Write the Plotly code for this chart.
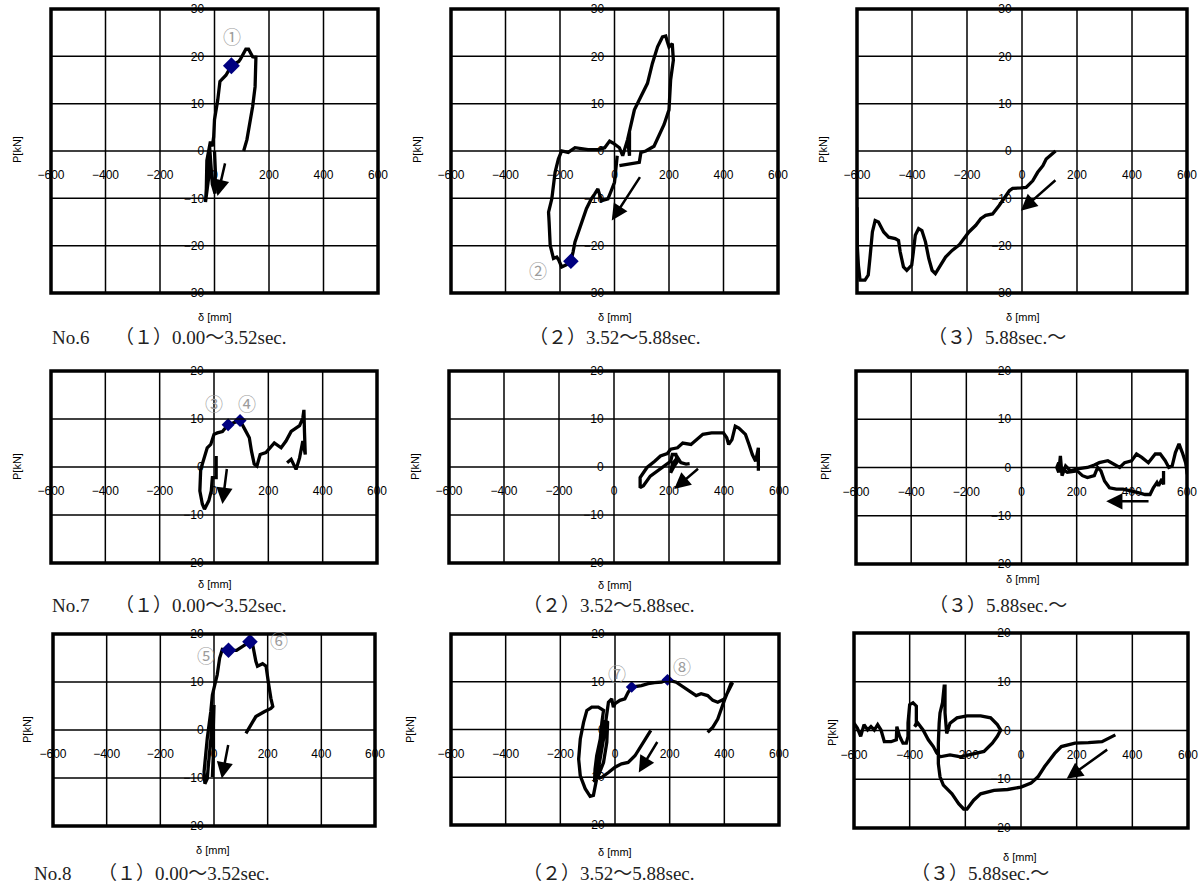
import plotly.graph_objects as go

# ---------------------------------------------------------------------------
# Load-displacement records, (delta [mm], P [kN]) in recorded order
# ---------------------------------------------------------------------------
NO6_1 = [(0, 0), (3, -4), (2, -9), (-8, -7), (-18, 1), (-20, -5), (-33, -10.8),
         (-30, -8), (-28, -2), (-15, 2), (-8, 1), (-3, 3), (0, 6.6), (12, 10.8),
         (20, 14.7), (30, 15.2), (42, 16), (62, 18), (89, 18.9), (95, 19.4),
         (107, 20.6), (115, 21.5), (125, 21.5), (133, 20.6), (140, 19.9),
         (152, 19.8), (152, 18.5), (149, 13.6), (140, 9.4), (131, 5.9),
         (119, 2.4), (107, 0)]
NO6_2 = [(10, -1), (6, -4.2), (0, -6.6), (-12, -8.4), (-24, -10.1), (-48, -10.5),
         (-61, -8), (-73, -9.1), (-85, -10.1), (-103, -12.2), (-115, -14.3),
         (-133, -17.1), (-145, -19.2), (-152, -21.3), (-160, -23.3), (-175, -24),
         (-194, -24.5), (-205, -23), (-212, -22.4), (-224, -22.7), (-236, -19.9),
         (-240, -15), (-242, -12.9), (-230, -10.1), (-224, -6.6), (-218, -4.5),
         (-206, -1.7), (-194, 0), (-170, -0.3), (-145, 0.7), (-97, 0.3),
         (-61, 0.3), (-36, 0.7), (-18, 2.1), (-6, 1.7), (18, 0.7), (30, -1),
         (42, 1), (48, 2.4), (55, -1), (55, 4), (48, 2.4), (61, 6), (73, 8.7),
         (97, 11.5), (121, 14.3), (139, 18.5), (158, 22), (176, 24.1),
         (188, 24.3), (194, 23.1), (200, 22), (212, 22.7), (216, 19.2),
         (206, 15), (200, 8.7), (182, 5.6), (164, 3.5), (145, 1), (115, 0),
         (97, -0.3), (91, -2.4), (55, -2.8), (18, -3.1)]
NO6_3 = [(122, 0), (88, -1.7), (76, -3.1), (57, -4.5), (39, -6.3), (15, -7.7),
         (-4, -7.8), (-34, -7.9), (-46, -8.4), (-65, -10.1), (-83, -11.5),
         (-107, -13.3), (-132, -13.6), (-150, -14.3), (-168, -15.7),
         (-193, -17.1), (-211, -18.5), (-229, -19.9), (-254, -21), (-278, -22.4),
         (-296, -24.1), (-315, -25.9), (-327, -25.2), (-339, -22.7),
         (-351, -19.2), (-364, -16.8), (-376, -16.4), (-388, -17.8),
         (-395, -21.3), (-401, -24.1), (-419, -25.2), (-431, -24.5),
         (-443, -21.3), (-449, -18.9), (-461, -18.5), (-485, -18.2),
         (-503, -17.1), (-522, -15), (-534, -14.7), (-544, -17.1),
         (-553, -22.7), (-559, -26.2), (-571, -27.3), (-589, -27.3),
         (-595, -24.1), (-599, -19.9), (-600, -11.9)]
NO7_1 = [(8, 2.3), (8, -2.2), (-6, -2.2), (-10, -5), (-19, -7), (-35, -8.8),
         (-43, -7.7), (-52, -5), (-49, -0.5), (-37, 1.9), (-25, 4), (-12, 4.7),
         (0, 6.8), (12, 7.1), (31, 7.4), (52, 8.8), (74, 9.2), (96, 9.7),
         (111, 8.1), (130, 6.1), (138, 3.3), (148, 0.6), (158, 0.2), (170, 2.6),
         (191, 3), (210, 4.3), (222, 5), (247, 4), (265, 5.4), (284, 7.4),
         (296, 7.8), (315, 8.6), (327, 10.2), (331, 11.9), (333, 7.4),
         (336, 2.6), (327, 5.4), (315, 1.9), (302, -0.5), (293, 0.6),
         (284, 1.6), (269, 0.9)]
NO7_2 = [(275, 0.7), (262, 0.6), (243, 0.9), (231, 2), (212, 0.6), (206, -1.2),
         (219, 0.2), (231, 1.2), (225, 2.6), (212, 2.6), (206, 1.2), (182, 0.2),
         (157, -0.8), (132, -1.9), (107, -3.9), (95, -4.3), (95, -2.2),
         (120, -0.1), (148, 1.2), (169, 2.3), (194, 2.8), (206, 3.7), (231, 4),
         (250, 5), (280, 4.7), (299, 5.7), (323, 6.8), (355, 7.1), (398, 7.1),
         (410, 6.1), (417, 4.7), (429, 5.7), (441, 8.5), (454, 8.1), (478, 6.8),
         (491, 4.7), (503, 2.6), (515, 1.2), (525, 4), (525, -0.8)]
NO7_3 = [(515, -0.7), (515, -3.5), (509, -2.4), (497, -3.8), (491, -3.1),
         (478, -4.2), (466, -5.6), (448, -5.6), (423, -5.2), (399, -4.9),
         (368, -4.5), (344, -4.5), (319, -4.2), (301, -2.8), (288, -0.7),
         (276, 0), (264, -1.7), (239, -2.1), (221, -1.7), (202, -0.7),
         (166, -1), (141, 0), (135, 1), (128, 0), (135, -1), (141, 2.4),
         (147, -1.7), (160, 0.3), (178, -0.7), (202, -0.3), (239, 0),
         (264, 0.5), (282, 1), (313, 1.4), (337, 0.7), (356, 0), (374, 1),
         (399, 1.4), (417, 2.8), (436, 2.1), (460, 1), (485, 2.8), (503, 2.8),
         (521, 1.4), (534, 0), (546, 0.3), (558, 3.1), (571, 4.9), (583, 3.1),
         (595, 1), (601, -1.4)]
NO8_1 = [(119, -0.7), (156, 2.8), (187, 3.8), (212, 4.5), (219, 4.9), (212, 6.6),
         (204, 9.4), (200, 11.5), (194, 13.3), (181, 13.8), (162, 13.3),
         (156, 14.3), (150, 16.1), (144, 17.8), (134, 18.4), (106, 17.5),
         (84, 16.6), (54, 16.6), (31, 16.8), (21, 15), (12, 11.5), (0, 8.7),
         (-6, 7.3), (-12, 3.8), (-19, 1), (-25, -1.7), (-31, -5.2), (-37, -8.7),
         (-34, -11.2), (-25, -10.1), (-21, -7.3), (-16, -3.8), (-9, -0.3),
         (-4, 2.4), (0, 5.2), (-2, 1), (-2, -4.5), (-6, -9.8)]
NO8_2 = [(339, -0.6), (358, 0.5), (376, 2.2), (388, 4.3), (400, 6.1), (412, 7.8),
         (424, 9.6), (430, 9.8), (418, 8.5), (400, 6.4), (376, 5.7), (358, 6.1),
         (339, 7.1), (315, 7.5), (297, 7.1), (279, 7.8), (261, 8.5), (242, 9.2),
         (224, 9.9), (192, 10.4), (170, 9.9), (145, 9.8), (121, 9.6), (97, 9.2),
         (61, 8.9), (48, 7.8), (36, 6.4), (18, 6.1), (0, 5.4), (-6, 4.7),
         (-12, 6.4), (-24, 5.7), (-30, 3.6), (-36, 0.8), (-42, -2), (-51, -5.5),
         (-61, -8.3), (-67, -10.3), (-73, -12.4), (-79, -13.8), (-91, -14),
         (-109, -12.4), (-127, -9.7), (-133, -6.2), (-127, -2), (-115, 1.5),
         (-103, 4), (-85, 4.7), (-61, 4.7), (-42, 4), (-48, 1.5), (-54, -2),
         (-67, -5.5), (-73, -8.3), (-75, -11), (-61, -9.7), (-42, -6.9),
         (-30, -2.7), (-27, 1.5), (-36, 1.9), (-42, -1.3), (-58, -5.5),
         (-73, -10.3), (-48, -10), (-24, -9), (0, -7.9), (24, -7.2), (48, -6.9),
         (73, -5.5), (97, -3.4), (115, -1.6), (131, -0.2)]
NO8_3 = [(339, -0.9), (291, -2.3), (242, -2.5), (194, -2.6), (145, -3.3),
         (121, -4.7), (85, -7.4), (61, -9.5), (36, -10.8), (0, -11.6),
         (-48, -12.1), (-97, -12.3), (-145, -13), (-170, -14.3), (-194, -16.1),
         (-206, -16.1), (-224, -15), (-248, -13), (-279, -11.2), (-291, -9.5),
         (-297, -6.8), (-297, -2.6), (-294, 1.5), (-291, 3.6), (-282, 5.7),
         (-276, 9.1), (-273, 9.1), (-273, 3.6), (-267, -0.6), (-255, 1.5),
         (-230, 2.6), (-194, 3), (-145, 3), (-109, 2.6), (-85, 1.2), (-73, 0.1),
         (-85, -1.2), (-103, -2.6), (-133, -4.3), (-182, -5), (-218, -5.4),
         (-255, -5), (-291, -5.4), (-303, -4.6), (-315, -3.3), (-333, -1.9),
         (-352, 0.1), (-370, 1.5), (-382, 0.8), (-376, 1.5), (-376, 5),
         (-388, 5.7), (-400, 5.3), (-406, 1.5), (-406, -1.2), (-412, -2.6),
         (-424, -2.6), (-436, -1.2), (-446, 0.8), (-448, -1.9), (-467, -2.3),
         (-491, -2.3), (-503, 0.1), (-515, 1.2), (-527, 0.1), (-539, 0.8),
         (-551, 0.1), (-564, 1.2), (-576, -1.2), (-588, 0.5), (-600, 1.5)]

# Marked states (diamonds) and their circled tags (text, delta, P)
MARKS = {
    "NO6_1": [(62, 18.0)],
    "NO6_2": [(-160, -23.3)],
    "NO7_1": [(52, 8.8), (96, 9.7)],
    "NO8_1": [(54, 16.6), (134, 18.4)],
    "NO8_2": [(61, 8.9), (192, 10.4)],
}
TAGS = {
    "NO6_1": [("①", 66, 24.3)],
    "NO6_2": [("②", -279, -25.2)],
    "NO7_1": [("③", 0, 13.3), ("④", 121, 13.3)],
    "NO8_1": [("⑤", -30, 15.6), ("⑥", 241, 18.7)],
    "NO8_2": [("⑦", 6, 11.8), ("⑧", 244, 13.3)],
}
# Loading-direction arrows: (tail delta, tail P, head delta, head P)
ARROWS = {
    "NO6_1": (40, -2.3, 11, -9.5),
    "NO6_2": (97, -5.2, -10, -14.7),
    "NO6_3": (127, -5.9, -4, -12.6),
    "NO7_1": (48, -0.1, 31, -7.7),
    "NO7_2": (311, -0.1, 219, -4.6),
    "NO7_3": (466, -7.0, 307, -7.0),
    "NO8_1": (54, -2.8, 29, -10.1),
    "NO8_2": (158, -2.3, 87, -9.0),
    "NO8_3": (315, -3.7, 164, -9.9),
}

X_TICKS = [-600, -400, -200, 0, 200, 400, 600]
Y_TICKS_30 = [-30, -20, -10, 0, 10, 20, 30]
Y_TICKS_20 = [-20, -10, 0, 10, 20]

SPECIMENS = ["No.6", "No.7", "No.8"]
STAGES = ["（１）0.00～3.52sec.", "（２）3.52～5.88sec.", "（３）5.88sec.～"]

# ---------------------------------------------------------------------------
# Page layout (pixels)
# ---------------------------------------------------------------------------
W, H = 1201, 885
PANELS = [
    # key, series, y ticks, box (left, right, top, bottom), diamond size
    ("NO6_1", NO6_1, Y_TICKS_30, (51, 378, 9, 293), 13),
    ("NO6_2", NO6_2, Y_TICKS_30, (451, 778, 9, 293), 12),
    ("NO6_3", NO6_3, Y_TICKS_30, (857, 1187, 9, 293), 12),
    ("NO7_1", NO7_1, Y_TICKS_20, (51, 377, 371, 563), 10),
    ("NO7_2", NO7_2, Y_TICKS_20, (449, 779, 371, 563), 10),
    ("NO7_3", NO7_3, Y_TICKS_20, (856, 1187, 371, 564), 10),
    ("NO8_1", NO8_1, Y_TICKS_20, (53, 375, 634, 826), 12),
    ("NO8_2", NO8_2, Y_TICKS_20, (451, 779, 634, 825), 9),
    ("NO8_3", NO8_3, Y_TICKS_20, (854, 1188, 633, 828), 10),
]
CAPTION_Y = [337, 605, 873]
SPEC_X = [(50, 113), (50, 113), (32, 96)]
STAGE_CX = [[None, 615, 997], [None, 609, 998], [None, 609, 980]]
DELTA_LABEL = [[(215, 317), (615, 317), (1023, 317)],
               [(215, 584), (615, 585), (1023, 579)],
               [(213, 850), (615, 852), (1020, 857)]]
P_LABEL = [[(17, 150), (417, 150), (823, 150)],
           [(17, 467), (415, 467), (825, 467)],
           [(27, 730), (410, 730), (832, 733)]]

TICK_FONT = dict(family="Liberation Sans, Arial, sans-serif", size=12, color="black")
CAP_FONT = dict(family="Liberation Serif, 'Noto Sans CJK JP', serif", size=19, color="#222222")
SMALL_FONT = dict(family="Liberation Sans, Arial, sans-serif", size=11, color="black")
TAG_FONT = dict(family="'Noto Sans CJK JP', sans-serif", size=18, color="#9c9c9c")


def px(x):
    return x / W


def py(y):
    return 1 - y / H


fig = go.Figure()
shapes, annotations = [], []
layout_axes = {}

for i, (key, series, yticks, (l, r, t, b), msize) in enumerate(PANELS, start=1):
    sfx = "" if i == 1 else str(i)
    xa, ya = "x" + sfx, "y" + sfx
    ylim = max(yticks)

    layout_axes["xaxis" + sfx] = dict(
        domain=[px(l), px(r)], range=[-600, 600], anchor="free",
        position=py((t + b) / 2), tickmode="array", tickvals=X_TICKS,
        ticks="outside", ticklen=13, tickcolor="rgba(0,0,0,0)",
        showgrid=False, zeroline=False, showline=False,
        tickfont=TICK_FONT, fixedrange=True)
    layout_axes["yaxis" + sfx] = dict(
        domain=[py(b), py(t)], range=[-ylim, ylim], anchor="free",
        position=px((l + r) / 2), tickmode="array", tickvals=yticks,
        ticks="outside", ticklen=8, tickcolor="rgba(0,0,0,0)",
        showgrid=False, zeroline=False, showline=False,
        tickfont=TICK_FONT, fixedrange=True)

    d_vals = [pt[0] for pt in series]
    p_vals = [pt[1] for pt in series]
    fig.add_trace(go.Scatter(
        x=d_vals, y=p_vals, xaxis=xa, yaxis=ya, mode="lines",
        line=dict(color="black", width=3.3), hoverinfo="skip"))

    if key in MARKS:
        fig.add_trace(go.Scatter(
            x=[m[0] for m in MARKS[key]], y=[m[1] for m in MARKS[key]],
            xaxis=xa, yaxis=ya, mode="markers",
            marker=dict(symbol="diamond", size=msize, color="#000080",
                        line=dict(width=0)),
            hoverinfo="skip"))
        for txt, tx, ty in TAGS[key]:
            annotations.append(dict(x=tx, y=ty, xref=xa, yref=ya, text=txt,
                                    showarrow=False, font=TAG_FONT))

    tx0, ty0, hx, hy = ARROWS[key]
    annotations.append(dict(x=hx, y=hy, ax=tx0, ay=ty0, xref=xa, yref=ya,
                            axref=xa, ayref=ya, text="", showarrow=True,
                            arrowhead=2, arrowsize=1.3, arrowwidth=2.5,
                            arrowcolor="black"))

    # grid drawn over the axis labels, as in the original worksheet chart
    for gx in X_TICKS[1:-1]:
        shapes.append(dict(type="line", xref=xa, yref=ya + " domain",
                           x0=gx, x1=gx, y0=0, y1=1, layer="above",
                           line=dict(color="black", width=1.5)))
    for gy in yticks[1:-1]:
        shapes.append(dict(type="line", xref=xa + " domain", yref=ya,
                           x0=0, x1=1, y0=gy, y1=gy, layer="above",
                           line=dict(color="black", width=1.5)))
    shapes.append(dict(type="rect", xref=xa + " domain", yref=ya + " domain",
                       x0=0, x1=1, y0=0, y1=1, layer="above",
                       line=dict(color="black", width=3.5)))

# captions and axis titles
for row in range(3):
    cy = CAPTION_Y[row]
    sx, stx = SPEC_X[row]
    annotations.append(dict(x=px(sx), y=py(cy), xref="paper", yref="paper",
                            text=SPECIMENS[row], showarrow=False, xanchor="left",
                            yanchor="middle", font=CAP_FONT))
    annotations.append(dict(x=px(stx), y=py(cy), xref="paper", yref="paper",
                            text=STAGES[0], showarrow=False, xanchor="left",
                            yanchor="middle", font=CAP_FONT))
    for col in (1, 2):
        annotations.append(dict(x=px(STAGE_CX[row][col]), y=py(cy), xref="paper",
                                yref="paper", text=STAGES[col], showarrow=False,
                                xanchor="center", yanchor="middle", font=CAP_FONT))
    for col in range(3):
        dx, dy = DELTA_LABEL[row][col]
        annotations.append(dict(x=px(dx), y=py(dy), xref="paper", yref="paper",
                                text="δ [mm]", showarrow=False, xanchor="center",
                                yanchor="middle", font=SMALL_FONT))
        lx, ly = P_LABEL[row][col]
        annotations.append(dict(x=px(lx), y=py(ly), xref="paper", yref="paper",
                                text="P[kN]", showarrow=False, textangle=-90,
                                xanchor="center", yanchor="middle", font=SMALL_FONT))

fig.update_layout(
    width=W, height=H,
    margin=dict(l=0, r=0, t=0, b=0, autoexpand=False),
    paper_bgcolor="white", plot_bgcolor="white", showlegend=False,
    shapes=shapes, annotations=annotations, **layout_axes)

fig.write_html("out.html")
